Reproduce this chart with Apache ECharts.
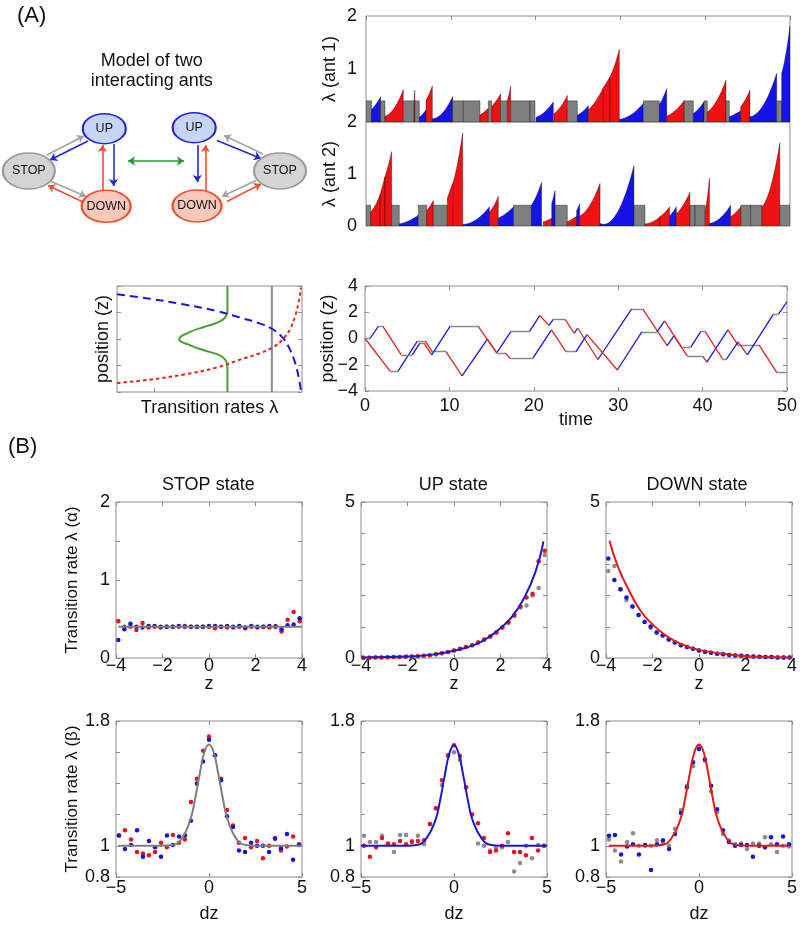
<!DOCTYPE html>
<html><head><meta charset="utf-8">
<script src="https://cdn.jsdelivr.net/npm/echarts@6/dist/echarts.min.js"></script>
<style>html,body{margin:0;padding:0;background:#fff}#c{width:800px;height:925px}</style>
</head><body><div id="c"></div>
<script>
// ---------------- DATA ----------------
// diagram (schematic of two ants)
const diagNodeNames = ['UP','STOP','DOWN','UP','STOP','DOWN'];
const diagNodeStates = ['U','S','D','U','S','D'];
const diagNodeX = [104.3, 28.8, 106.2, 194.2, 280, 197];
const diagNodeY = [128.7, 171, 206.3, 127.7, 171, 206];
const diagArrows = [
  [46.7,155,84,136,'S'],[88,141,50,160,'U'],[113.5,144,113.5,186,'U'],[102.5,191,102.5,145,'D'],
  [50,181,86,196.5,'S'],[82,201.5,48,185.5,'D'],
  [263,154,224,135.5,'S'],[217,140.5,261,158.5,'U'],[197.3,145,197.3,182,'U'],[205.5,191,205.5,145,'D'],
  [256,180.5,222,196.5,'S'],[227,201.5,261,184,'D']
];
const diagLink = [128,161,184,161];

// lambda(t) segments: [state, tStart, tEnd, lambdaStart, lambdaMid, lambdaEnd]
const ant1Lambda = [
  ['S',0,0.65,.4,.4,.4],['U',0.65,1.73,.24,.34,.48],['S',1.73,2.24,.4,.4,.4],['D',2.24,4.4,.11,.26,.61],
  ['S',4.4,5.68,.4,.4,.4],['D',5.68,5.76,.5,.55,.6],['S',5.76,6.29,.4,.4,.4],['U',6.29,7.08,.09,.15,.23],
  ['D',7.08,7.82,.41,.53,.68],['U',7.82,10.22,.06,.17,.48],['S',10.22,11.48,.4,.4,.4],['S',11.48,13.44,.4,.4,.4],
  ['D',13.44,14.43,.13,.19,.26],['S',14.43,14.82,.4,.4,.4],['D',14.82,15.88,.29,.4,.53],['S',15.88,16.67,.4,.4,.4],
  ['D',16.67,17.06,.41,.53,.68],['S',17.06,19.34,.4,.4,.4],['S',19.34,19.93,.4,.4,.4],['U',20.05,22.09,.09,.19,.38],
  ['D',22.17,23.74,.16,.29,.5],['S',23.74,24.92,.4,.4,.4],['U',24.92,26.22,.13,.2,.31],['D',26.22,27.99,.23,.4,.65],
  ['D',27.99,28.77,.65,.75,.85],['D',28.77,29.87,.85,1.07,1.37],['U',29.87,32.7,.05,.14,.35],['S',32.7,34.6,.4,.4,.4],
  ['U',34.6,35.46,.33,.46,.63],['D',35.46,37.54,.11,.22,.41],['S',37.54,38.6,.4,.4,.4],['U',38.6,39.86,.16,.25,.38],
  ['S',39.86,40.25,.4,.4,.4],['D',40.25,42.45,.19,.4,.79],['S',42.45,42.85,.4,.4,.4],['U',42.85,44.18,.1,.15,.21],
  ['D',44.18,45.28,.29,.42,.6],['U',45.28,48.43,.1,.32,.92],['S',48.43,49.02,.4,.4,.4],['U',49.02,50,.92,1.28,1.82]
];
const ant2Lambda = [
  ['S',0,0.55,.4,.4,.4],['D',0.55,1.65,.27,.4,.6],['D',1.65,2.24,.6,.77,.95],['D',2.24,3.03,.95,1.17,1.43],
  ['S',3.03,3.93,.4,.4,.4],['U',3.93,6.17,.04,.1,.21],['S',6.17,7.15,.4,.4,.4],['D',7.15,7.94,.3,.38,.49],
  ['S',7.94,9.59,.4,.4,.4],['D',9.59,10.3,.53,.7,.85],['D',10.3,11.4,.85,1.25,1.79],['U',11.4,14.55,.03,.12,.37],
  ['D',14.55,15.6,.27,.39,.57],['U',15.6,17.4,.15,.24,.37],['S',17.4,19.5,.4,.4,.4],['U',19.5,20.7,.4,.58,.84],
  ['D',20.9,21.9,.08,.11,.15],['U',21.9,22.3,.43,.55,.68],['S',22.3,23.74,.4,.4,.4],['D',23.74,24.84,.08,.13,.19],
  ['U',24.84,25.2,.3,.36,.43],['D',25.2,27.6,.19,.4,.82],['U',27.6,31.6,.05,.25,1.16],['S',31.6,32.9,.4,.4,.4],
  ['D',32.9,34.67,.04,.08,.18],['D',34.67,35.8,.18,.26,.37],['U',35.8,36.6,.19,.27,.37],['D',36.6,38.2,.24,.4,.65],
  ['S',38.2,38.8,.4,.4,.4],['S',38.8,40.0,.4,.4,.4],['D',40.0,40.5,.3,.55,.92],['U',40.5,43.0,.05,.15,.4],
  ['D',43.0,44.2,.18,.26,.37],['S',44.2,45.36,.4,.4,.4],['S',45.36,46.7,.4,.4,.4],['D',46.7,48.8,.37,.77,1.6],
  ['S',48.8,50,.4,.4,.4]
];

// position trajectories: [time, z, state of following segment]
const ant1Pos = [
  [0,0,'S'],[0.6,0,'U'],[1.6,0.95,'S'],[2.1,0.95,'D'],[4.3,-1.25,'S'],[5.6,-1.25,'U'],[6.5,-0.35,'S'],[7.0,-0.35,'D'],
  [7.9,-1.25,'U'],[10.1,0.95,'S'],[13.4,0.95,'D'],[15.6,-1.1,'S'],[16.6,-1.1,'D'],[17.2,-1.5,'S'],[19.9,-1.5,'U'],
  [22.1,0.65,'D'],[23.8,-1.0,'S'],[25.0,-1.0,'U'],[26.3,0.3,'D'],[29.9,-2.4,'U'],[32.8,0.5,'S'],[34.6,0.5,'U'],
  [35.5,1.35,'D'],[37.5,-0.65,'S'],[38.6,-0.65,'U'],[39.8,0.55,'S'],[40.3,0.55,'D'],[42.4,-1.6,'S'],[42.8,-1.6,'U'],
  [44.2,-0.25,'D'],[45.3,-1.25,'U'],[48.4,1.85,'S'],[49.0,1.85,'U'],[50,2.8,null]
];
const ant2Pos = [
  [0,0,'D'],[3.0,-2.5,'S'],[3.9,-2.5,'U'],[6.2,-0.2,'S'],[7.15,-0.2,'D'],[7.95,-1.0,'S'],[9.6,-1.0,'D'],
  [11.5,-2.85,'U'],[14.5,-0.05,'D'],[15.6,-1.1,'U'],[17.3,0.55,'S'],[19.5,0.55,'U'],[20.7,1.75,'D'],[21.8,1.0,'U'],
  [22.3,1.45,'S'],[23.7,1.45,'D'],[24.8,0.4,'U'],[25.2,0.8,'D'],[27.6,-1.6,'U'],[31.6,2.25,'S'],[32.9,2.25,'D'],
  [35.8,-0.55,'U'],[36.6,0.2,'D'],[38.2,-1.35,'S'],[40.0,-1.35,'D'],[40.5,-1.8,'U'],[43.0,0.65,'D'],[44.2,-0.5,'S'],
  [46.7,-0.5,'D'],[48.8,-2.6,'S'],[50,-2.6,null]
];

// schematic rates vs position: [rate (relative), z]
const schemUp = [[0,3.37],[0.177,3.04],[0.358,2.62],[0.539,2.11],[0.665,1.61],[0.774,1.16],[0.846,0.70],[0.90,0.03],[0.937,-0.86],[0.964,-1.86],[0.982,-2.87],[0.995,-4]];
const schemDown = [[0,-3.32],[0.177,-3.07],[0.358,-2.69],[0.539,-2.16],[0.665,-1.56],[0.774,-1.06],[0.846,-0.60],[0.90,0.03],[0.937,0.78],[0.964,1.79],[0.982,2.79],[0.995,3.87]];
const schemInteract = [[0.597,4],[0.597,2.1],[0.588,1.7],[0.56,1.35],[0.48,0.95],[0.39,0.5],[0.336,0],[0.40,-0.5],[0.47,-0.85],[0.55,-1.2],[0.585,-1.55],[0.597,-2.0],[0.597,-4]];
const schemStop = [[0.837,-4],[0.837,4]];

// (B) top row: rate vs z
const zGrid = [-3.9,-3.64,-3.38,-3.12,-2.86,-2.6,-2.34,-2.08,-1.82,-1.56,-1.3,-1.04,-0.78,-0.52,-0.26,0,0.26,0.52,0.78,1.04,1.3,1.56,1.82,2.08,2.34,2.6,2.86,3.12,3.38,3.64,3.9];
const stopRedA  = [.47,.40,.40,.36,.45,.39,.40,.39,.40,.40,.40,.41,.40,.40,.40,.40,.38,.40,.39,.39,.40,.38,.40,.39,.40,.39,.41,.34,.49,.59,.47];
const stopBlueA = [.23,.37,.44,.40,.39,.41,.41,.40,.40,.40,.41,.40,.40,.40,.40,.41,.41,.40,.41,.40,.41,.39,.41,.40,.40,.41,.40,.37,.42,.43,.51];
const upRedA  = [.01,.01,.015,.02,.025,.03,.035,.04,.05,.06,.07,.09,.12,.15,.19,.24,.3,.35,.41,.5,.59,.69,.82,.98,1.14,1.38,1.65,1.94,2.06,3.1,3.44];
const upGrayA = [.01,.01,.015,.02,.025,.03,.035,.04,.05,.06,.07,.09,.12,.15,.19,.24,.3,.35,.41,.5,.59,.69,.82,.98,1.14,1.35,1.62,1.68,2.0,2.24,3.3];
const downBlueA = [3.19,2.5,2.2,1.94,1.65,1.38,1.15,1.01,.82,.72,.59,.5,.41,.35,.3,.24,.2,.17,.14,.12,.1,.08,.07,.06,.05,.04,.03,.03,.02,.02,.02];
const downGrayA = [2.79,2.95,2.2,1.86,1.65,1.38,1.15,.96,.82,.72,.59,.5,.41,.35,.3,.24,.2,.17,.14,.12,.1,.08,.07,.06,.05,.04,.03,.03,.02,.02,.02];
const stopFitA = [[-3.9,0.4],[4,0.4]];
const upFitA = [[-3.96,0.02],[-3,0.03],[-2,0.05],[-1,0.1],[0,0.23],[0.5,0.33],[1,0.46],[1.5,0.67],[2,0.96],[2.5,1.33],[3,1.9],[3.5,2.75],[3.85,3.74]];
const downFitA = [[-3.85,3.76],[-3.5,2.95],[-3,2.15],[-2.5,1.5],[-2,1.08],[-1.5,0.76],[-1,0.53],[-0.5,0.37],[0,0.26],[1,0.14],[2,0.06],[3,0.03],[4,0.015]];

// (B) bottom row: rate vs dz
const dzGrid = [-4.84,-4.52,-4.19,-3.87,-3.55,-3.23,-2.9,-2.58,-2.26,-1.94,-1.61,-1.29,-0.97,-0.65,-0.32,0,0.32,0.65,0.97,1.29,1.61,1.94,2.26,2.58,2.9,3.23,3.55,3.87,4.19,4.52,4.84];
const stopRedB  = [1.066,1.10,1.04,0.96,0.95,0.94,0.96,1.02,0.99,1.07,1.02,1.04,1.28,1.43,1.61,1.70,1.58,1.43,1.23,1.13,1.02,1.05,0.99,1.03,0.92,1.0,1.05,0.97,0.995,1.06,1.01];
const stopBlueB = [1.066,0.98,1.005,1.10,0.93,1.03,0.99,0.93,1.066,1.005,1.06,1.066,1.16,1.40,1.54,1.68,1.58,1.42,1.19,1.12,0.97,0.96,1.02,1.0,1.0,0.96,1.045,0.985,1.075,0.91,1.005];
const upRedB  = [1.0,0.93,0.99,1.05,1.015,1.01,1.03,1.01,1.025,1.03,1.035,1.14,1.24,1.42,1.58,1.645,1.575,1.375,1.20,1.145,1.05,0.96,0.97,1.0,1.08,0.96,0.96,0.94,1.05,0.97,1.0];
const upGrayB = [1.065,1.025,1.025,1.065,1.01,0.96,1.07,1.07,1.03,1.065,1.01,1.14,1.24,1.39,1.575,1.6,1.55,1.375,1.2,1.015,1.0,0.97,0.99,0.99,1.025,0.835,0.89,1.0,0.92,1.005,1.0];
const downBlueB = [1.065,1.07,0.945,0.995,1.01,0.945,1.005,0.845,1.01,1.035,0.98,1.075,1.21,1.375,1.535,1.62,1.555,1.385,1.235,1.10,1.025,1.0,1.005,1.005,0.93,1.0,0.99,1.055,1.01,1.06,1.01];
const downGrayB = [1.04,0.97,0.9,1.025,1.08,1.0,1.0,1.0,1.035,1.015,1.0,1.11,1.23,1.385,1.51,1.635,1.545,1.35,1.215,1.075,1.035,1.01,1.015,0.98,1.015,1.015,1.055,1.01,0.96,1.0,0.995];
const stopFitB = [[-4.87,1.0],[-2.5,1.0],[-2,1.005],[-1.5,1.04],[-1,1.17],[-0.75,1.3],[-0.5,1.46],[-0.25,1.6],[0,1.65],[0.25,1.6],[0.5,1.46],[0.75,1.3],[1,1.17],[1.5,1.04],[2,1.005],[2.5,1.0],[5,1.0]];
const upFitB = [[-5,1.0],[-2.5,1.0],[-2,1.005],[-1.5,1.045],[-1,1.165],[-0.75,1.29],[-0.5,1.45],[-0.25,1.59],[0,1.645],[0.25,1.59],[0.5,1.45],[0.75,1.29],[1,1.165],[1.5,1.045],[2,1.005],[2.5,1.0],[5,1.0]];
const downFitB = [[-4.85,1.0],[-2.5,1.0],[-2,1.005],[-1.5,1.045],[-1,1.17],[-0.75,1.3],[-0.5,1.46],[-0.25,1.6],[0,1.65],[0.25,1.6],[0.5,1.46],[0.75,1.3],[1,1.17],[1.5,1.045],[2,1.005],[2.5,1.0],[4.85,1.0]];

// ---------------- STYLE / BUILD ----------------
const FONT = '"Liberation Sans", Arial, Helvetica, sans-serif';
const AX = '#8c8c8c';
const RED = '#e6141c', BLUE = '#1616d2', GRAY = '#8c8c8c';
const NODE_SIZE = {U:[43,30], S:[52,36], D:[49,32]};
const NODE_FILL = {U:'#c6d6fa', S:'#d4d4d4', D:'#fbc8ba'};
const NODE_STROKE = {U:'#2222dd', S:'#9a9a9a', D:'#f24b2c'};
const ARROW_COL = {U:'#2727d6', S:'#a3a3a3', D:'#f2512e'};
const SCODE = {S:0, U:1, D:2};
const SEG_COL = ['#7f7f7f', '#1414e8', '#ee1212'];
const POS_COL = {S:'#8a8a8a', U:'#1a1ad8', D:'#e02222'};

const minus = v => String(v).replace('-', '\u2212');
const grids = [], xAxes = [], yAxes = [], series = [];
function grid(l, t, w, h, show) {
  grids.push({left:l, top:t, width:w, height:h, show:show !== false, borderColor:AX, borderWidth:1, backgroundColor:'rgba(0,0,0,0)'});
  return grids.length - 1;
}
function ax(list, gi, o) {
  list.push(Object.assign({gridIndex:gi, type:'value', splitLine:{show:false}, axisLine:{show:false, onZero:false},
    axisTick:{show:false}, axisLabel:{show:false}, nameMoveOverlap:false}, o));
  return list.length - 1;
}
const TICK = {show:true, inside:true, length:4, lineStyle:{color:AX, width:1}};
const LBL = o => Object.assign({show:true, color:'#111', fontSize:18, fontFamily:FONT, showMinLabel:true, showMaxLabel:true, formatter:minus}, o);
const NAME = {fontSize:18, color:'#111', fontFamily:FONT};

// ---- diagram grid (hidden axes) ----
const gD = grid(0, 0, 320, 240, false);
const xD = ax(xAxes, gD, {min:0, max:320, show:false});
const yD = ax(yAxes, gD, {min:0, max:240, inverse:true, show:false});
series.push({type:'lines', coordinateSystem:'cartesian2d', xAxisIndex:xD, yAxisIndex:yD, symbol:['none','arrow'], symbolSize:7, silent:true, z:2,
  data: diagArrows.map(a => ({coords:[[a[0],a[1]],[a[2],a[3]]], lineStyle:{color:ARROW_COL[a[4]], width:1.6, opacity:1}, itemStyle:{color:ARROW_COL[a[4]]}}))});
series.push({type:'lines', coordinateSystem:'cartesian2d', xAxisIndex:xD, yAxisIndex:yD, symbol:['arrow','arrow'], symbolSize:7, silent:true, z:2,
  lineStyle:{color:'#1e9a2a', width:1.6, opacity:1}, itemStyle:{color:'#1e9a2a'},
  data:[{coords:[[diagLink[0],diagLink[1]],[diagLink[2],diagLink[3]]]}]});
series.push({type:'scatter', xAxisIndex:xD, yAxisIndex:yD, silent:true, z:3,
  data: diagNodeNames.map((n,i) => {
    const s = diagNodeStates[i];
    return {value:[diagNodeX[i], diagNodeY[i]], symbol:'circle', symbolSize:NODE_SIZE[s],
      itemStyle:{color:NODE_FILL[s], borderColor:NODE_STROKE[s], borderWidth:1.8, opacity:1},
      label:{show:true, position:'inside', formatter:n, fontSize:12.5, color:'#111', fontFamily:FONT}};
  })});

// ---- lambda panels ----
function lambdaSeries(segs, xi, yi) {
  return {type:'custom', xAxisIndex:xi, yAxisIndex:yi, clip:true, silent:true,
    data: segs.map(s => [s[1], s[2], s[3], s[4], s[5], SCODE[s[0]]]),
    renderItem: (params, api) => {
      const t0 = api.value(0), t1 = api.value(1), a = api.value(2), m = api.value(3), b = api.value(4), c = api.value(5);
      const p0 = api.coord([t0, 0]), pa = api.coord([t0, a]), pb = api.coord([t1, b]), p1 = api.coord([t1, 0]);
      const pm = api.coord([(t0 + t1) / 2, m]);
      const pts = [p0, pa];
      if (c === 0) { pts.push(pb); }
      else {
        const cx = 2 * pm[0] - 0.5 * (pa[0] + pb[0]), cy = 2 * pm[1] - 0.5 * (pa[1] + pb[1]);
        for (let k = 1; k <= 24; k++) { const s = k / 24, u = 1 - s;
          pts.push([u*u*pa[0] + 2*s*u*cx + s*s*pb[0], Math.min(p0[1], u*u*pa[1] + 2*s*u*cy + s*s*pb[1])]); }
      }
      pts.push(p1);
      return {type:'polygon', shape:{points:pts}, style:{fill:SEG_COL[c], stroke:'rgba(0,0,0,0.7)', lineWidth:0.5}};
    }};
}
const gA1 = grid(366, 16, 424, 106);
const xA1 = ax(xAxes, gA1, {min:0, max:50, interval:10});
ax(xAxes, gA1, {min:0, max:50, interval:10, position:'top', axisTick:TICK});
const yA1 = ax(yAxes, gA1, {min:0, max:2, interval:1, axisLabel:LBL({margin:9, formatter:v => v === 0 ? '' : String(v)}),
  name:'λ (ant 1)', nameLocation:'middle', nameGap:27, nameRotate:90, nameTextStyle:NAME});
series.push(lambdaSeries(ant1Lambda, xA1, yA1));

const gA2 = grid(366, 122, 424, 104);
const xA2 = ax(xAxes, gA2, {min:0, max:50, interval:10});
const yA2 = ax(yAxes, gA2, {min:0, max:2, interval:1, axisLabel:LBL({margin:9}),
  name:'λ (ant 2)', nameLocation:'middle', nameGap:27, nameRotate:90, nameTextStyle:NAME});
series.push(lambdaSeries(ant2Lambda, xA2, yA2));

// ---- schematic panel ----
const gS = grid(117, 286, 185, 106);
const xS = ax(xAxes, gS, {min:0, max:1, interval:0.2, axisTick:Object.assign({}, TICK, {customValues:[0.2]}),
  name:'Transition rates λ', nameLocation:'middle', nameGap:7, nameTextStyle:NAME});
const yS = ax(yAxes, gS, {min:-4, max:4, interval:2, axisTick:TICK,
  name:'position (z)', nameLocation:'middle', nameGap:5, nameRotate:90, nameTextStyle:NAME});
ax(yAxes, gS, {min:-4, max:4, interval:2, position:'right', axisTick:TICK});
function lineS(xi, yi, data, color, width, type, smooth) {
  return {type:'line', xAxisIndex:xi, yAxisIndex:yi, data, showSymbol:false, symbol:'none', smooth,
    lineStyle:{color, width, type}, silent:true};
}
series.push(lineS(xS, yS, schemStop, '#8a8a8a', 2, 'solid', false));
series.push(lineS(xS, yS, schemInteract, '#4aa02c', 2, 'solid', 0.5));
series.push(lineS(xS, yS, schemUp, '#1a1ad6', 2, [8,5], 0.4));
series.push(lineS(xS, yS, schemDown, '#e02222', 2, [3.5,3], 0.4));

// ---- position vs time ----
const gP = grid(365, 286, 422, 105);
const xP = ax(xAxes, gP, {min:0, max:50, interval:10, axisTick:TICK, axisLabel:LBL({margin:6}),
  name:'time', nameLocation:'middle', nameGap:20, nameTextStyle:NAME});
ax(xAxes, gP, {min:0, max:50, interval:10, position:'top', axisTick:TICK});
const yP = ax(yAxes, gP, {min:-4, max:4, interval:2, axisTick:TICK, axisLabel:LBL({margin:7}),
  name:'position (z)', nameLocation:'middle', nameGap:28, nameRotate:90, nameTextStyle:NAME});
ax(yAxes, gP, {min:-4, max:4, interval:2, position:'right', axisTick:TICK});
function posLines(verts) {
  const out = [];
  for (let i = 0; i < verts.length - 1; i++)
    out.push({coords:[[verts[i][0], verts[i][1]], [verts[i+1][0], verts[i+1][1]]], lineStyle:{color:POS_COL[verts[i][2]]}});
  return out;
}
[ant2Pos, ant1Pos].forEach(v => series.push({type:'lines', coordinateSystem:'cartesian2d', xAxisIndex:xP, yAxisIndex:yP,
  polyline:false, silent:true, lineStyle:{width:1.3, opacity:1}, data:posLines(v)}));

// ---- (B) panels ----
function bPanel(left, top, xc, yc, xName, xGap, yName) {
  const g = grid(left, top, 186, 156);
  const xi = ax(xAxes, g, {min:xc.min, max:xc.max, interval:xc.interval, axisTick:TICK, axisLabel:LBL({margin:xc.margin}),
    name:xName, nameLocation:'middle', nameGap:xGap, nameTextStyle:NAME});
  ax(xAxes, g, {min:xc.min, max:xc.max, interval:xc.interval, position:'top', axisTick:TICK});
  const yo = {min:yc.min, max:yc.max, interval:yc.interval, axisTick:TICK, axisLabel:LBL({margin:6, formatter:yc.fmt})};
  if (yName) Object.assign(yo, {name:yName, nameLocation:'middle', nameGap:35, nameRotate:90, nameTextStyle:Object.assign({}, NAME, {fontSize:17})});
  const yi = ax(yAxes, g, yo);
  ax(yAxes, g, {min:yc.min, max:yc.max, interval:yc.interval, position:'right', axisTick:TICK});
  return [xi, yi];
}
function dots(xi, yi, xs, ys, color) {
  return {type:'scatter', xAxisIndex:xi, yAxisIndex:yi, symbolSize:4.5, silent:true,
    itemStyle:{color, opacity:1}, data:xs.map((x,i) => [x, ys[i]])};
}
const fitLine = (xi, yi, data, color) => lineS(xi, yi, data, color, 2, 'solid', true);
const xTop = {min:-4, max:4, interval:2, margin:-1};
const xBot = {min:-5, max:5, interval:5, margin:2};
const yStop = {min:0, max:2, interval:0.5, fmt:v => Number.isInteger(v) ? String(v) : ''};
const yRate = {min:0, max:5, interval:1, fmt:v => (v === 0 || v === 5) ? String(v) : ''};
const yBeta = {min:0.8, max:1.8, interval:0.2, fmt:v => Math.abs(v-0.8) < 1e-6 ? '0.8' : Math.abs(v-1) < 1e-6 ? '1' : Math.abs(v-1.8) < 1e-6 ? '1.8' : ''};

let p;
p = bPanel(116, 502, xTop, yStop, 'z', 17, 'Transition rate λ (α)');
series.push(fitLine(p[0], p[1], stopFitA, '#7f7f7f'), dots(p[0], p[1], zGrid, stopRedA, RED), dots(p[0], p[1], zGrid, stopBlueA, BLUE));
p = bPanel(361, 502, xTop, yRate, 'z', 17, null);
series.push(fitLine(p[0], p[1], upFitA, '#1a1acd'), dots(p[0], p[1], zGrid, upGrayA, GRAY), dots(p[0], p[1], zGrid, upRedA, RED));
p = bPanel(606, 502, xTop, yRate, 'z', 17, null);
series.push(fitLine(p[0], p[1], downFitA, '#e31a1a'), dots(p[0], p[1], zGrid, downGrayA, GRAY), dots(p[0], p[1], zGrid, downBlueA, BLUE));

p = bPanel(116, 721, xBot, yBeta, 'dz', 28, 'Transition rate λ (β)');
series.push(fitLine(p[0], p[1], stopFitB, '#7f7f7f'), dots(p[0], p[1], dzGrid, stopRedB, RED), dots(p[0], p[1], dzGrid, stopBlueB, BLUE));
p = bPanel(361, 721, xBot, yBeta, 'dz', 28, null);
series.push(fitLine(p[0], p[1], upFitB, '#1a1acd'), dots(p[0], p[1], dzGrid, upGrayB, GRAY), dots(p[0], p[1], dzGrid, upRedB, RED));
p = bPanel(606, 721, xBot, yBeta, 'dz', 28, null);
series.push(fitLine(p[0], p[1], downFitB, '#e31a1a'), dots(p[0], p[1], dzGrid, downGrayB, GRAY), dots(p[0], p[1], dzGrid, downBlueB, BLUE));

// ---- texts ----
const txt = (x, y, text, size, align) => ({type:'text', x, y, silent:true,
  style:{text, fontSize:size, fontFamily:FONT, fill:'#111', align:align || 'center', verticalAlign:'middle', lineHeight:20}});
const graphic = [
  txt(17, 16, '(A)', 22, 'left'),
  txt(151.7, 71, 'Model of two\ninteracting ants', 18),
  txt(8, 447, '(B)', 22, 'left'),
  txt(208.3, 485, 'STOP state', 18),
  txt(453.3, 485, 'UP state', 18),
  txt(697, 485, 'DOWN state', 18)
];

const chart = echarts.init(document.getElementById('c'), null, {renderer:'canvas'});
chart.setOption({animation:false, backgroundColor:'#fff', textStyle:{fontFamily:FONT},
  grid:grids, xAxis:xAxes, yAxis:yAxes, series, graphic});
</script></body></html>
